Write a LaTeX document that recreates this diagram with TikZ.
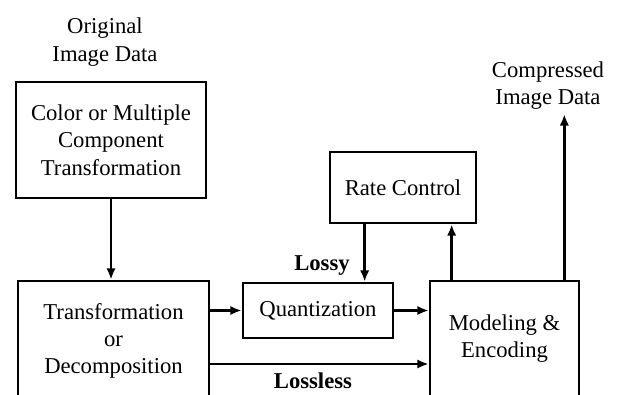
\documentclass[tikz,border=0pt]{standalone}
\usepackage{fontspec}
\setmainfont{Liberation Serif}
\usepackage{tikz}
\usetikzlibrary{arrows.meta,calc}
\tikzset{>={Latex[length=8.5pt,width=7pt]}}

\begin{document}
\begin{tikzpicture}[x=0.75pt,y=-0.75pt,
		box/.style={draw,line width=2pt,align=center,inner sep=0pt,
			font=\fontsize{17}{20.5}\selectfont},
		lbl/.style={align=center,font=\fontsize{17}{20.5}\selectfont},
		flow/.style={->,line width=1.8pt}]
	\clip (0,0) rectangle (617,394);
	% blocks
	\node[lbl] (orig) at (105,42) {Original\\Image Data};
	\node[box,minimum width=142.5pt,minimum height=87pt] (color) at (111,140) {Color or Multiple\\Component\\Transformation};
	\node[box,minimum width=143.25pt,minimum height=90pt] (decomp) at (113.5,341) {Transformation\\or\\Decomposition};
	\node[box,minimum width=112.5pt,minimum height=41.25pt] (quant) at (318,310.5) {Quantization};
	\node[box,minimum width=109.5pt,minimum height=53.25pt] (rate) at (403,187.5) {Rate Control};
	\node[box,minimum width=111.75pt,minimum height=86.25pt] (model) at (504.5,338.5) {Modeling \&\\Encoding};
	\node[lbl] (comp) at (548,85.5) {Compressed\\Image Data};
	% connectors
	\draw[flow] (color.south) -- (color.south |- decomp.north);
	\draw[flow] (quant.west -| decomp.east) -- (quant.west);
	\draw[flow] (quant.east) -- (quant.east -| model.west);
	\coordinate (ll) at ($(decomp.east)+(0,23)$);
	\draw[flow] (ll) -- (ll -| model.west) node[pos=0.47,below=2pt,font=\fontsize{17}{20.5}\selectfont\bfseries] {Lossless};
	\coordinate (rq) at ([xshift=27pt]rate.south west);
	\draw[flow] (rq) -- (rq |- quant.north) node[pos=0.72,left=7pt,font=\fontsize{17}{20.5}\selectfont\bfseries] {Lossy};
	\coordinate (mr) at ([xshift=17.25pt]model.north west);
	\draw[flow] (mr) -- (mr |- rate.south);
	\coordinate (mo) at ([xshift=-12pt]model.north east);
	\draw[flow] (mo) -- (mo |- comp.south);
\end{tikzpicture}
\end{document}
